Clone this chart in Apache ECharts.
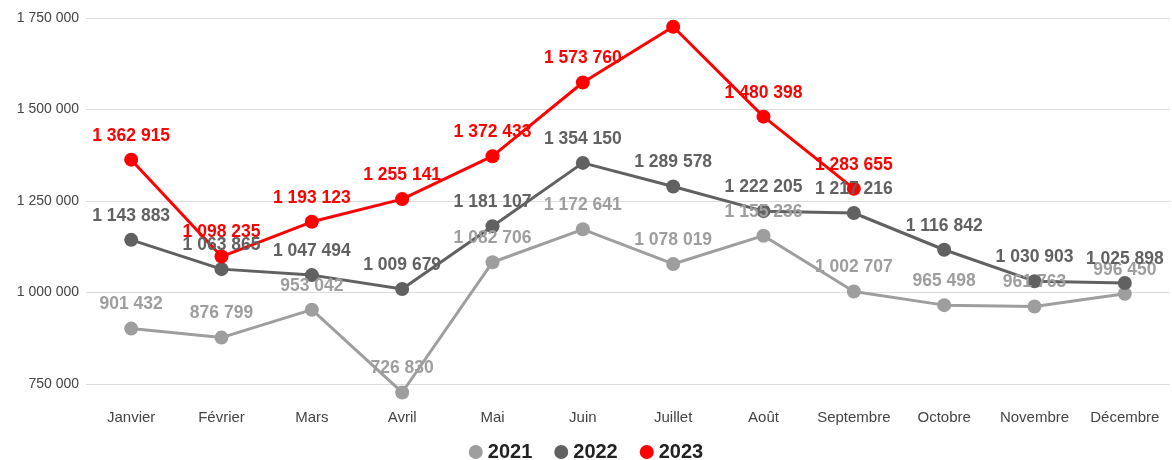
<!DOCTYPE html>
<html>
<head>
<meta charset="utf-8">
<script src="https://cdn.jsdelivr.net/npm/echarts@6/dist/echarts.min.js"></script>
<style>
  html, body { margin: 0; padding: 0; background: #fff; }
  #chart { width: 1172px; height: 460px; }
</style>
</head>
<body>
<div id="chart"></div>
<script>
// mois et valeurs par année
const months = ["Janvier", "Février", "Mars", "Avril", "Mai", "Juin", "Juillet", "Août", "Septembre", "Octobre", "Novembre", "Décembre"];
const v2021 = [901432, 876799, 953042, 726830, 1082706, 1172641, 1078019, 1155236, 1002707, 965498, 961763, 996450];
const v2022 = [1143883, 1063865, 1047494, 1009679, 1181107, 1354150, 1289578, 1222205, 1217216, 1116842, 1030903, 1025898];
const v2023 = [1362915, 1098235, 1193123, 1255141, 1372433, 1573760, 1726000, 1480398, 1283655];
// le point de juillet 2023 n'a pas d'étiquette visible
const hiddenLabel2023 = [6];

const fmt = (n) => String(n).replace(/\B(?=(\d{3})+(?!\d))/g, " ");

const makeSeries = (name, data, color, hidden) => ({
  name: name,
  type: "line",
  clip: false,
  symbol: "circle",
  symbolSize: 14,
  lineStyle: { width: 3, color: color },
  itemStyle: { color: color },
  label: {
    show: true,
    position: "top",
    distance: 8,
    color: color,
    fontSize: 17.5,
    fontWeight: "bold",
    fontFamily: "Liberation Sans, Arial, sans-serif",
    formatter: (p) => fmt(p.value)
  },
  data: data.map((v, i) => (hidden.includes(i) ? { value: v, label: { show: false } } : v))
});

var chart = echarts.init(document.getElementById("chart"));
var option = {
  animation: false,
  textStyle: { fontFamily: "Liberation Sans, Arial, sans-serif" },
  grid: { left: 86, right: 2, top: 18, bottom: 76 },
  legend: {
    top: 437,
    left: "center",
    icon: "circle",
    itemWidth: 14,
    itemHeight: 14,
    itemGap: 22,
    textStyle: { fontSize: 20, fontWeight: "bold", color: "#222" },
    data: ["2021", "2022", "2023"]
  },
  xAxis: {
    type: "category",
    data: months,
    axisLine: { show: false },
    axisTick: { show: false },
    axisLabel: { color: "#444", fontSize: 15, margin: 26, interval: 0 }
  },
  yAxis: {
    type: "value",
    min: 750000,
    max: 1750000,
    interval: 250000,
    axisLine: { show: false },
    axisTick: { show: false },
    splitLine: { lineStyle: { color: "#dcdcdc", width: 1 } },
    axisLabel: { color: "#444", fontSize: 14, margin: 7, formatter: (v) => fmt(v) }
  },
  series: [
    makeSeries("2021", v2021, "#9e9e9e", []),
    makeSeries("2022", v2022, "#616161", []),
    makeSeries("2023", v2023, "#ff0000", hiddenLabel2023)
  ]
};
chart.setOption(option);
</script>
</body>
</html>
